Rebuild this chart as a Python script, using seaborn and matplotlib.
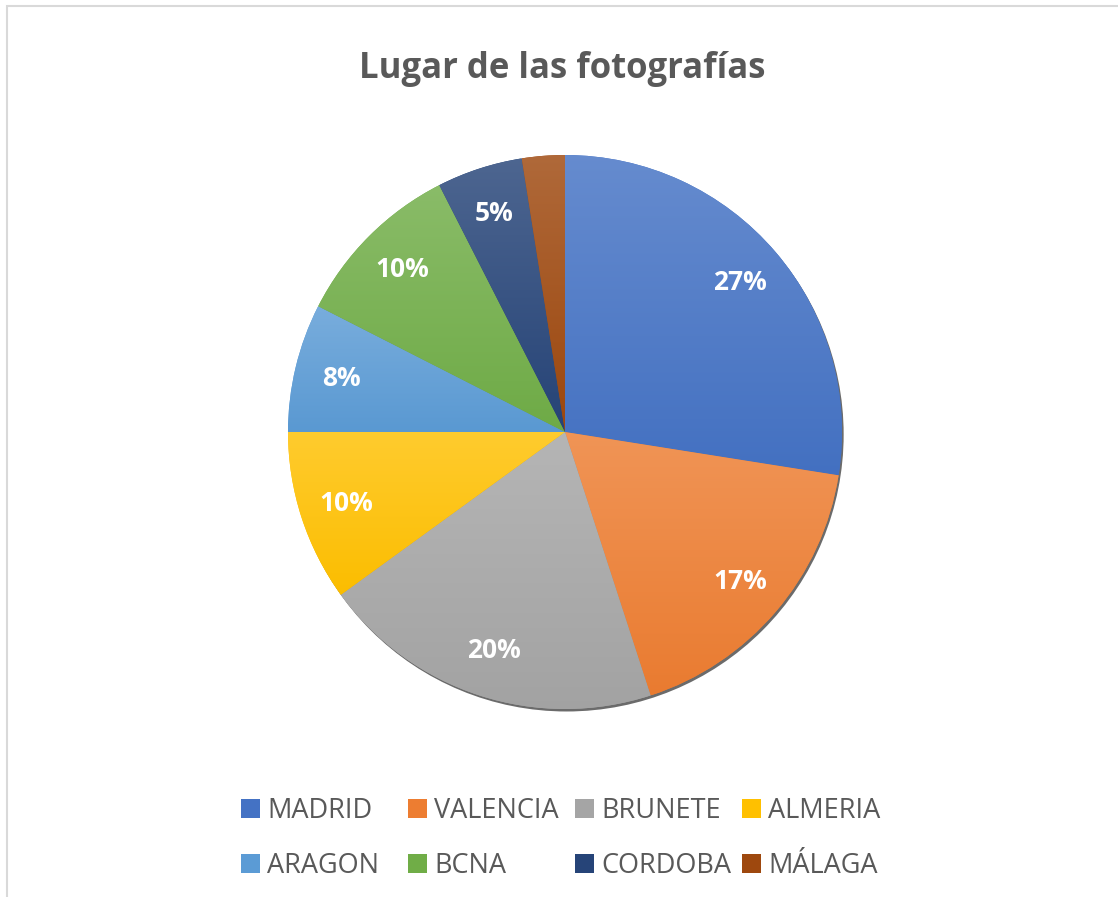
#!/usr/bin/env python3
import numpy as np
import matplotlib
matplotlib.use("Agg")
import matplotlib.pyplot as plt
import matplotlib.colors as mcolors
from matplotlib.patches import Rectangle, Circle
import seaborn as sns

# datos
lugares = ["MADRID", "VALENCIA", "BRUNETE", "ALMERIA", "ARAGON", "BCNA", "CORDOBA", "MÁLAGA"]
fotos = [11, 7, 8, 4, 3, 4, 2, 1]
etiquetas = ["27%", "17%", "20%", "10%", "8%", "10%", "5%", ""]
colores = ["#4472C4", "#ED7D31", "#A5A5A5", "#FFC000", "#5B9BD5", "#70AD47", "#264478", "#9E480E"]

W, H = 1118, 897
GRIS = "#595959"
LIM = 1.05

sns.set_theme(style="white")
plt.rcParams["font.family"] = ["Open Sans", "DejaVu Sans"]

paleta = sns.color_palette(colores)


def degradado(ax, wedge, color):
    base = np.array(mcolors.to_rgb(color))
    arriba = base + (1 - base) * 0.18
    abajo = base * 0.985
    t = np.linspace(0, 1, 256)[:, None]
    img = arriba[None, :] * (1 - t) + abajo[None, :] * t
    img = np.repeat(img[:, None, :], 2, axis=1)
    bb = wedge.get_path().get_extents(wedge.get_patch_transform())
    im = ax.imshow(img, extent=(bb.x0, bb.x1, bb.y0, bb.y1), origin="upper",
                   aspect="auto", zorder=2, interpolation="bilinear")
    im.set_clip_path(wedge)


def main():
    fig = plt.figure(figsize=(W / 100, H / 100), dpi=100)

    cx, cy, r = 565, 432, 277
    rl = r * LIM
    ax = fig.add_axes([(cx - rl) / W, (H - cy - rl) / H, 2 * rl / W, 2 * rl / H])

    etiq = iter(etiquetas)
    wedges, _, autotexts = ax.pie(
        fotos, colors=paleta, startangle=90, counterclock=False,
        autopct=lambda p: next(etiq), pctdistance=0.83,
        wedgeprops=dict(linewidth=0), radius=1.0,
    )
    for w, c in zip(wedges, colores):
        w.set_zorder(1)
        degradado(ax, w, c)
    for t in autotexts:
        t.set_color("white")
        t.set_fontsize(19)
        t.set_fontweight("bold")
        t.set_zorder(5)

    # sombra
    sombra = Circle((0.006, -0.009), 1.0, color="#6b6b6b", zorder=0, lw=0)
    ax.add_patch(sombra)

    ax.set_xlim(-LIM, LIM)
    ax.set_ylim(-LIM, LIM)
    ax.set_aspect("equal")
    ax.axis("off")

    fig.text(562 / W, 1 - 78 / H, "Lugar de las fotografías", ha="center", va="baseline",
             fontsize=25, fontweight="bold", color=GRIS)

    # leyenda
    for i, (lugar, c) in enumerate(zip(lugares, colores)):
        col, fila = i % 4, i // 4
        x0 = 241 + 167 * col
        yb = 818 + 55 * fila
        fig.patches.append(Rectangle((x0 / W, 1 - yb / H), 19 / W, 19 / H,
                                     transform=fig.transFigure, color=c, lw=0))
        fig.text((x0 + 26) / W, 1 - yb / H, lugar, ha="left", va="baseline",
                 fontsize=19.5, color=GRIS)

    # marco
    fig.patches.append(Rectangle((7 / W, -0.05), 1.2, 1 - 6 / H + 0.05,
                                 transform=fig.transFigure, fill=False,
                                 edgecolor="#D9D9D9", lw=1.5))

    fig.savefig("out.png", dpi=100)
    plt.close(fig)


if __name__ == "__main__":
    main()
